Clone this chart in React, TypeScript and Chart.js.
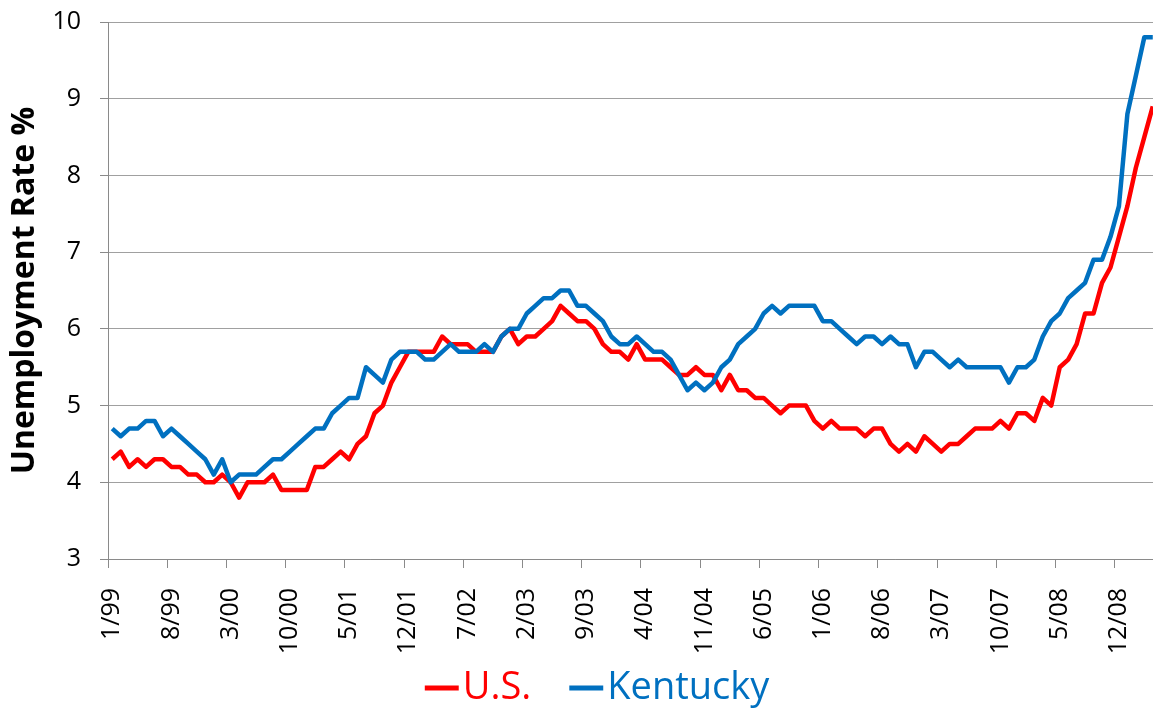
import React, { useEffect, useRef } from 'react';
import { Chart, registerables } from 'chart.js';

Chart.register(...registerables);

// Monthly categories, January 1999 through April 2009
const MONTHS: string[] = [
  '1/99', '2/99', '3/99', '4/99', '5/99', '6/99', '7/99', '8/99', '9/99', '10/99', '11/99', '12/99',
  '1/00', '2/00', '3/00', '4/00', '5/00', '6/00', '7/00', '8/00', '9/00', '10/00', '11/00', '12/00',
  '1/01', '2/01', '3/01', '4/01', '5/01', '6/01', '7/01', '8/01', '9/01', '10/01', '11/01', '12/01',
  '1/02', '2/02', '3/02', '4/02', '5/02', '6/02', '7/02', '8/02', '9/02', '10/02', '11/02', '12/02',
  '1/03', '2/03', '3/03', '4/03', '5/03', '6/03', '7/03', '8/03', '9/03', '10/03', '11/03', '12/03',
  '1/04', '2/04', '3/04', '4/04', '5/04', '6/04', '7/04', '8/04', '9/04', '10/04', '11/04', '12/04',
  '1/05', '2/05', '3/05', '4/05', '5/05', '6/05', '7/05', '8/05', '9/05', '10/05', '11/05', '12/05',
  '1/06', '2/06', '3/06', '4/06', '5/06', '6/06', '7/06', '8/06', '9/06', '10/06', '11/06', '12/06',
  '1/07', '2/07', '3/07', '4/07', '5/07', '6/07', '7/07', '8/07', '9/07', '10/07', '11/07', '12/07',
  '1/08', '2/08', '3/08', '4/08', '5/08', '6/08', '7/08', '8/08', '9/08', '10/08', '11/08', '12/08',
  '1/09', '2/09', '3/09', '4/09',
];

const US_RATE: number[] = [
  4.3, 4.4, 4.2, 4.3, 4.2, 4.3, 4.3, 4.2, 4.2, 4.1, 4.1, 4.0,
  4.0, 4.1, 4.0, 3.8, 4.0, 4.0, 4.0, 4.1, 3.9, 3.9, 3.9, 3.9,
  4.2, 4.2, 4.3, 4.4, 4.3, 4.5, 4.6, 4.9, 5.0, 5.3, 5.5, 5.7,
  5.7, 5.7, 5.7, 5.9, 5.8, 5.8, 5.8, 5.7, 5.7, 5.7, 5.9, 6.0,
  5.8, 5.9, 5.9, 6.0, 6.1, 6.3, 6.2, 6.1, 6.1, 6.0, 5.8, 5.7,
  5.7, 5.6, 5.8, 5.6, 5.6, 5.6, 5.5, 5.4, 5.4, 5.5, 5.4, 5.4,
  5.2, 5.4, 5.2, 5.2, 5.1, 5.1, 5.0, 4.9, 5.0, 5.0, 5.0, 4.8,
  4.7, 4.8, 4.7, 4.7, 4.7, 4.6, 4.7, 4.7, 4.5, 4.4, 4.5, 4.4,
  4.6, 4.5, 4.4, 4.5, 4.5, 4.6, 4.7, 4.7, 4.7, 4.8, 4.7, 4.9,
  4.9, 4.8, 5.1, 5.0, 5.5, 5.6, 5.8, 6.2, 6.2, 6.6, 6.8, 7.2,
  7.6, 8.1, 8.5, 8.9,
];

const KENTUCKY_RATE: number[] = [
  4.7, 4.6, 4.7, 4.7, 4.8, 4.8, 4.6, 4.7, 4.6, 4.5, 4.4, 4.3,
  4.1, 4.3, 4.0, 4.1, 4.1, 4.1, 4.2, 4.3, 4.3, 4.4, 4.5, 4.6,
  4.7, 4.7, 4.9, 5.0, 5.1, 5.1, 5.5, 5.4, 5.3, 5.6, 5.7, 5.7,
  5.7, 5.6, 5.6, 5.7, 5.8, 5.7, 5.7, 5.7, 5.8, 5.7, 5.9, 6.0,
  6.0, 6.2, 6.3, 6.4, 6.4, 6.5, 6.5, 6.3, 6.3, 6.2, 6.1, 5.9,
  5.8, 5.8, 5.9, 5.8, 5.7, 5.7, 5.6, 5.4, 5.2, 5.3, 5.2, 5.3,
  5.5, 5.6, 5.8, 5.9, 6.0, 6.2, 6.3, 6.2, 6.3, 6.3, 6.3, 6.3,
  6.1, 6.1, 6.0, 5.9, 5.8, 5.9, 5.9, 5.8, 5.9, 5.8, 5.8, 5.5,
  5.7, 5.7, 5.6, 5.5, 5.6, 5.5, 5.5, 5.5, 5.5, 5.5, 5.3, 5.5,
  5.5, 5.6, 5.9, 6.1, 6.2, 6.4, 6.5, 6.6, 6.9, 6.9, 7.2, 7.6,
  8.8, 9.3, 9.8, 9.8,
];

const SERIES_NAMES = ['U.S.', 'Kentucky'];
const SERIES_COLORS = ['#FF0000', '#0070C0'];
const Y_AXIS_TITLE = 'Unemployment Rate %';
const Y_MIN = 3;
const Y_MAX = 10;
const Y_STEP = 1;
const LABEL_EVERY = 7;

const FONT = "'Open Sans', 'DejaVu Sans', sans-serif";
const AXIS_GRAY = '#8a8a8a';
const GRID_GRAY = '#a0a0a0';

// Let the rotated x tick labels run past the (compact) x-scale box instead of being clipped.
const unclipXLabels = {
  id: 'unclipXLabels',
  afterLayout(chart: any) {
    const x = chart.scales.x;
    if (x) x.bottom = chart.height;
  },
};

export default function App() {
  const canvasRef = useRef<HTMLCanvasElement>(null);

  useEffect(() => {
    const canvas = canvasRef.current;
    if (!canvas) return;
    const chart = new Chart(canvas, {
      type: 'line',
      data: {
        labels: MONTHS,
        datasets: [
          {
            label: SERIES_NAMES[0],
            data: US_RATE,
            borderColor: SERIES_COLORS[0],
            backgroundColor: SERIES_COLORS[0],
            borderWidth: 4.5,
            pointRadius: 0,
            pointHoverRadius: 0,
            tension: 0,
            borderJoinStyle: 'round',
            fill: false,
            order: 1,
          },
          {
            label: SERIES_NAMES[1],
            data: KENTUCKY_RATE,
            borderColor: SERIES_COLORS[1],
            backgroundColor: SERIES_COLORS[1],
            borderWidth: 4.5,
            pointRadius: 0,
            pointHoverRadius: 0,
            tension: 0,
            borderJoinStyle: 'round',
            fill: false,
            order: 0,
          },
        ],
      },
      plugins: [unclipXLabels],
      options: {
        responsive: false,
        animation: false,
        events: [],
        layout: { padding: { top: 22, bottom: -7, left: 0, right: 0 } },
        plugins: {
          tooltip: { enabled: false },
          title: { display: false },
          legend: {
            display: true,
            position: 'bottom',
            align: 'center',
            labels: {
              usePointStyle: true,
              boxWidth: 4,
              boxHeight: 24,
              padding: 53,
              font: { family: FONT, size: 38 },
              generateLabels: (c: any) =>
                c.data.datasets.map((ds: any, i: number) => ({
                  text: ds.label,
                  fillStyle: ds.borderColor,
                  strokeStyle: ds.borderColor,
                  fontColor: ds.borderColor,
                  lineWidth: 5,
                  lineCap: 'butt',
                  pointStyle: 'line',
                  hidden: false,
                  datasetIndex: i,
                })),
            },
          },
        },
        scales: {
          x: {
            type: 'category',
            offset: true,
            grid: {
              display: true,
              offset: true,
              drawOnChartArea: false,
              drawTicks: true,
              tickLength: 9,
              tickWidth: 1,
              tickColor: (ctx: any) =>
                typeof ctx.index === 'number' && ctx.index % LABEL_EVERY === 0 ? AXIS_GRAY : 'rgba(0,0,0,0)',
            },
            border: { display: true, color: AXIS_GRAY, width: 1 },
            ticks: {
              autoSkip: false,
              minRotation: 90,
              maxRotation: 90,
              padding: 20,
              color: '#000',
              font: { family: FONT, size: 25 },
              callback: (_v: any, i: number) => (i % LABEL_EVERY === 0 ? MONTHS[i] : ''),
            },
            afterFit: (s: any) => {
              s.height = 57;
            },
          },
          y: {
            type: 'linear',
            position: 'left',
            min: Y_MIN,
            max: Y_MAX,
            ticks: {
              stepSize: Y_STEP,
              color: '#000',
              padding: 19,
              font: { family: FONT, size: 25 },
            },
            grid: {
              color: GRID_GRAY,
              lineWidth: 1,
              drawTicks: true,
              tickLength: 8,
              tickColor: AXIS_GRAY,
            },
            border: { display: true, color: AXIS_GRAY, width: 1 },
            title: {
              display: true,
              text: Y_AXIS_TITLE,
              color: '#000',
              font: { family: FONT, size: 32, weight: 'bold' },
              padding: { top: 6, bottom: 0 },
            },
            afterFit: (s: any) => {
              s.width = 108;
              s.paddingTop = 0;
              s.paddingBottom = 0;
            },
          },
          yRightSpace: {
            type: 'linear',
            position: 'right',
            display: true,
            grid: { display: false, drawTicks: false },
            border: { display: false },
            ticks: { display: false },
            afterFit: (s: any) => {
              s.width = 52;
              s.paddingTop = 0;
              s.paddingBottom = 0;
            },
          },
        },
      } as any,
    });
    return () => chart.destroy();
  }, []);

  return (
    <div
      style={{
        position: 'fixed',
        left: 0,
        top: 0,
        width: 1153,
        height: 710,
        overflow: 'hidden',
        background: '#ffffff',
      }}
    >
      <canvas ref={canvasRef} width={1209} height={710} style={{ display: 'block' }} />
    </div>
  );
}
